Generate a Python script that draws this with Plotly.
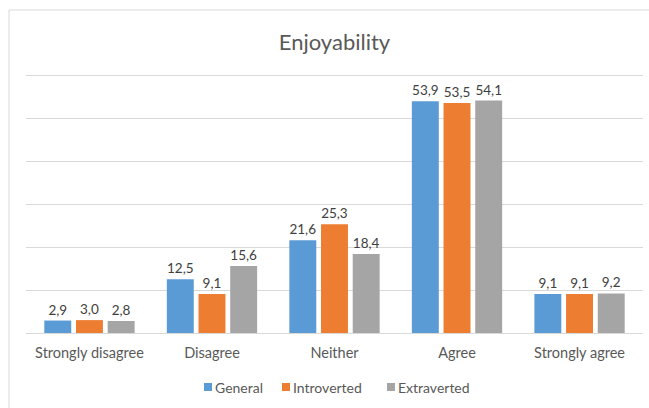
import plotly.graph_objects as go

categories = ["Strongly disagree", "Disagree", "Neither", "Agree", "Strongly agree"]
general = [2.9, 12.5, 21.6, 53.9, 9.1]
introverted = [3.0, 9.1, 25.3, 53.5, 9.1]
extraverted = [2.8, 15.6, 18.4, 54.1, 9.2]
series_names = ["General", "Introverted", "Extraverted"]
colors = ["#5B9BD5", "#ED7D31", "#A5A5A5"]

FONT = "Lato"
L, R, T, B = 26, 6, 73, 75
W, H = 649, 408
PW, PH = W - L - R, H - T - B

def px(x):
    return (x - L) / PW

def py(y):
    return (H - B - y) / PH

def fmt(v):
    return f"{v:.1f}".replace(".", ",")

fig = go.Figure()
for name, vals, col in zip(series_names, [general, introverted, extraverted], colors):
    fig.add_trace(go.Bar(
        x=list(range(len(categories))), y=vals, name=name,
        marker=dict(color=col, line=dict(width=0)),
        text=[fmt(v) for v in vals], textposition="outside",
        textfont=dict(family=FONT, size=13.5, color="#404040"),
        cliponaxis=False, showlegend=False,
    ))

# custom legend (marker square + label)
legend_marker_x = [204, 282, 387]
shapes = [dict(type="rect", xref="paper", yref="paper",
               x0=px(9), x1=1.2, y0=-0.5, y1=py(10),
               line=dict(color="#D9D9D9", width=1), fillcolor="rgba(0,0,0,0)", layer="below")]
annotations = []
for name, col, mx in zip(series_names, colors, legend_marker_x):
    shapes.append(dict(type="rect", xref="paper", yref="paper",
                       x0=px(mx), x1=px(mx + 8), y0=py(391), y1=py(383),
                       line=dict(width=0), fillcolor=col))
    annotations.append(dict(text=name, xref="paper", yref="paper", x=px(mx + 9), y=py(387),
                            xanchor="left", yanchor="middle", showarrow=False,
                            font=dict(family=FONT, size=14, color="#595959")))

fig.update_layout(
    width=W, height=H,
    margin=dict(l=L, r=R, t=T, b=B),
    paper_bgcolor="white", plot_bgcolor="white",
    barmode="group", bargap=0.224, bargroupgap=0.15,
    title=dict(text="Enjoyability", x=0.5, xref="paper", xanchor="center",
               y=1 - 42 / H, yanchor="middle",
               font=dict(family=FONT, size=22, color="#595959")),
    xaxis=dict(tickmode="array", tickvals=list(range(len(categories))), ticktext=categories,
               range=[-0.518, 4.518], showgrid=False, zeroline=False, showline=False,
               ticks="", ticklabelstandoff=9,
               tickfont=dict(family=FONT, size=14.5, color="#595959")),
    yaxis=dict(range=[0, 60.5], tickvals=[10, 20, 30, 40, 50, 60], showticklabels=False, showgrid=True,
               gridcolor="#D9D9D9", gridwidth=1, zeroline=True, zerolinecolor="#D9D9D9",
               zerolinewidth=1, showline=False, ticks=""),
    showlegend=False,
    shapes=shapes,
    annotations=annotations,
)

fig.write_html("out.html")
